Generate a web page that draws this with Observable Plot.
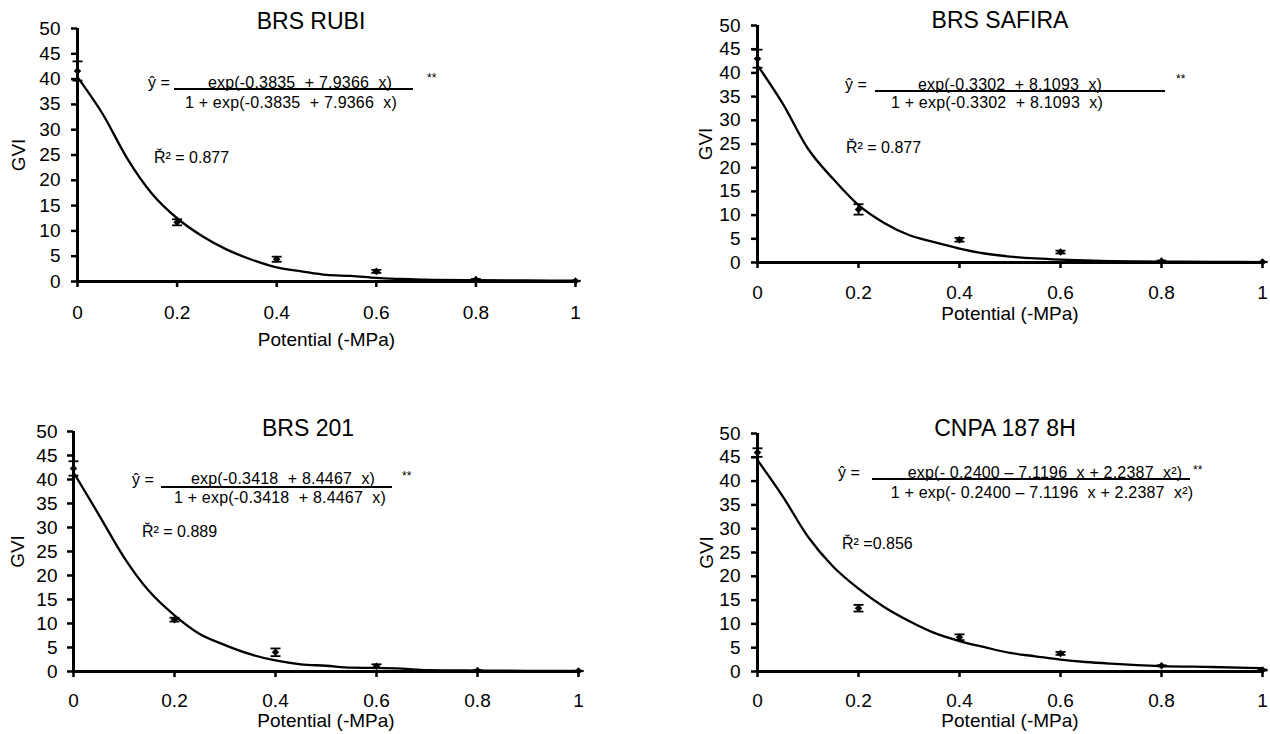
<!DOCTYPE html>
<html><head><meta charset="utf-8">
<script src="https://cdn.jsdelivr.net/npm/d3@7"></script>
<script src="https://cdn.jsdelivr.net/npm/@observablehq/plot@0.6"></script>
<style>
html,body{margin:0;padding:0;background:#fff;}
#root{position:relative;width:1270px;height:734px;overflow:hidden;font-family:"Liberation Sans",Arial,sans-serif;color:#000;background:#fff;}
.panel{position:absolute;}
.ann{position:absolute;white-space:pre;line-height:1;}
.fline{position:absolute;height:0;border-top:2px solid #000;}
</style></head><body><div id="root"></div>
<script>
// ---------------- data ----------------
const panelTitles = ["BRS RUBI", "BRS SAFIRA", "BRS 201", "CNPA 187 8H"];
const numerators = [
  "exp(-0.3835  + 7.9366  x)",
  "exp(-0.3302  + 8.1093  x)",
  "exp(-0.3418  + 8.4467  x)",
  "exp(- 0.2400 \u2013 7.1196  x + 2.2387  x\u00B2)"
];
const denominators = [
  "1 + exp(-0.3835  + 7.9366  x)",
  "1 + exp(-0.3302  + 8.1093  x)",
  "1 + exp(-0.3418  + 8.4467  x)",
  "1 + exp(- 0.2400 \u2013 7.1196  x + 2.2387  x\u00B2)"
];
const r2Labels = ["\u0158\u00B2 = 0.877", "\u0158\u00B2 = 0.877", "\u0158\u00B2 = 0.889", "\u0158\u00B2 =0.856"];
const yHatLabel = "\u0177 =";
const signif = "**";
const xLabel = "Potential (-MPa)";
const yLabel = "GVI";

const xTicks = [0, 0.2, 0.4, 0.6, 0.8, 1];
const yTicks = [0, 5, 10, 15, 20, 25, 30, 35, 40, 45, 50];
const potentials = [0, 0.2, 0.4, 0.6, 0.8, 1];

const meanRubi   = [41.6, 11.7, 4.4, 2.0, 0.4, 0.1];
const errRubi    = [1.9, 0.6, 0.5, 0.3, 0.1, 0.05];
const meanSafira = [43.0, 11.2, 4.8, 2.2, 0.3, 0.1];
const errSafira  = [1.9, 1.1, 0.4, 0.3, 0.1, 0.05];
const mean201    = [42.3, 10.8, 4.0, 1.1, 0.2, 0.1];
const err201     = [1.5, 0.4, 0.8, 0.4, 0.1, 0.05];
const meanCnpa   = [46.0, 13.3, 7.2, 3.8, 1.2, 0.3];
const errCnpa    = [0.9, 0.7, 0.6, 0.3, 0.1, 0.1];

const curveX      = [0, 0.05, 0.1, 0.15, 0.2, 0.25, 0.3, 0.35, 0.4, 0.45, 0.5, 0.55, 0.6, 0.65, 0.7, 0.8, 0.9, 1];
const curveRubi   = [40.4, 33.2, 24.3, 17.3, 12.5, 9.0, 6.3, 4.3, 2.8, 2.0, 1.3, 1.1, 0.7, 0.5, 0.35, 0.25, 0.2, 0.15];
const curveSafira = [41.6, 33.5, 24.0, 17.6, 12.1, 8.4, 5.8, 4.3, 2.95, 1.9, 1.25, 0.85, 0.6, 0.45, 0.3, 0.2, 0.15, 0.1];
const curve201    = [41.5, 32.7, 23.8, 16.7, 11.7, 7.8, 5.5, 3.6, 2.3, 1.5, 1.2, 0.8, 0.75, 0.6, 0.3, 0.2, 0.15, 0.1];
const curveCnpa   = [44.4, 36.8, 28.3, 22.0, 17.4, 13.6, 10.6, 8.1, 6.4, 5.1, 3.9, 3.2, 2.5, 2.0, 1.65, 1.15, 0.95, 0.7];

const means  = [meanRubi, meanSafira, mean201, meanCnpa];
const errs   = [errRubi, errSafira, err201, errCnpa];
const curves = [curveRubi, curveSafira, curve201, curveCnpa];

// ---------------- layout (pixels) ----------------
const layout = [
  {left: 0, top: 0, w: 630, h: 367, x0: 77, x1: 575, yT: 28, yB: 281, yPad: 11, xPad: 18, gviDx: -59, xlabDy: 58,
   title: [311, 21], yhat: [148, 83], num: [300, 83], line: [174, 413, 89], den: [291, 103], stars: [427, 78], r2: [154, 158]},
  {left: 630, top: 0, w: 640, h: 367, x0: 757, x1: 1262, yT: 25, yB: 262, yPad: 11, xPad: 17, gviDx: -52, xlabDy: 51,
   title: [1000, 20], yhat: [845, 85], num: [1010, 85], line: [875, 1165, 91], den: [997, 103], stars: [1176, 79], r2: [846, 148]},
  {left: 0, top: 367, w: 630, h: 367, x0: 73, x1: 578, yT: 431, yB: 671, yPad: 10, xPad: 16, gviDx: -56, xlabDy: 49,
   title: [308, 428], yhat: [132, 480], num: [283, 479], line: [161, 392, 487], den: [280, 498], stars: [402, 476], r2: [142, 532]},
  {left: 630, top: 367, w: 640, h: 367, x0: 757, x1: 1262, yT: 433, yB: 671, yPad: 11, xPad: 16, gviDx: -51, xlabDy: 49,
   title: [1005, 428], yhat: [838, 473], num: [1045, 473], line: [872, 1190, 479], den: [1042, 493], stars: [1193, 470], r2: [842, 544]}
];

const capSymbol = {
  draw(ctx, size) { const r = Math.sqrt(size / Math.PI); ctx.moveTo(-r, 0); ctx.lineTo(r, 0); }
};

const root = document.getElementById("root");
const FONT = "'Liberation Sans', Arial, sans-serif";

function makePanel(i) {
  const L = layout[i];
  const pts = potentials.map((x, j) => ({x, mean: means[i][j], err: errs[i][j]}));
  const curve = curveX.map((x, j) => ({x, y: curves[i][j]}));
  const plot = Plot.plot({
    width: L.w, height: L.h,
    marginLeft: L.x0 - L.left, marginRight: L.left + L.w - L.x1,
    marginTop: L.yT - L.top, marginBottom: L.top + L.h - L.yB,
    style: {fontFamily: FONT, fontSize: "19px", background: "transparent", overflow: "visible", color: "#000"},
    x: {domain: [xTicks[0], xTicks[xTicks.length - 1]]},
    y: {domain: [yTicks[0], yTicks[yTicks.length - 1]]},
    marks: [
      Plot.axisY({ticks: yTicks, tickSize: 6, tickPadding: L.yPad, strokeWidth: 2.5, label: null, fontSize: 19}),
      Plot.axisX({ticks: xTicks, tickSize: 6, tickPadding: L.xPad, strokeWidth: 2.5, label: null, fontSize: 19, tickFormat: d => String(d)}),
      Plot.line(curve, {x: "x", y: "y", stroke: "#000", strokeWidth: 2.3, curve: "monotone-x"}),
      Plot.ruleX([xTicks[0]], {y1: yTicks[0], y2: yTicks[yTicks.length - 1], strokeWidth: 3}),
      Plot.ruleY([yTicks[0]], {x1: xTicks[0], x2: xTicks[xTicks.length - 1], strokeWidth: 3}),
      Plot.ruleX(pts, {x: "x", y1: d => d.mean - d.err, y2: d => d.mean + d.err, stroke: "#000", strokeWidth: 1.8}),
      Plot.dot(pts, {x: "x", y: d => d.mean + d.err, symbol: capSymbol, r: 5, stroke: "#000", strokeWidth: 1.8, fill: "none"}),
      Plot.dot(pts, {x: "x", y: d => d.mean - d.err, symbol: capSymbol, r: 5, stroke: "#000", strokeWidth: 1.8, fill: "none"}),
      Plot.dot(pts, {x: "x", y: "mean", symbol: "diamond2", r: 3.4, fill: "#000", stroke: "none"}),
      Plot.text([yLabel], {text: d => d, frameAnchor: "left", dx: L.gviDx, rotate: -90, textAnchor: "middle", lineAnchor: "middle", fontSize: 19}),
      Plot.text([xLabel], {text: d => d, frameAnchor: "bottom", dy: L.xlabDy, textAnchor: "middle", lineAnchor: "middle", fontSize: 19})
    ]
  });
  const div = document.createElement("div");
  div.className = "panel";
  div.style.left = L.left + "px";
  div.style.top = L.top + "px";
  div.appendChild(plot);
  root.appendChild(div);
}

function addText(txt, x, y, size, anchor, extra) {
  const s = document.createElement("div");
  s.className = "ann";
  s.textContent = txt;
  s.style.left = x + "px";
  s.style.top = y + "px";
  s.style.fontSize = size + "px";
  s.style.transform = anchor === "middle" ? "translate(-50%,-50%)" : "translate(0,-50%)";
  if (extra) Object.assign(s.style, extra);
  root.appendChild(s);
}

function addAnnotations(i) {
  const L = layout[i];
  addText(panelTitles[i], L.title[0], L.title[1], 23, "middle");
  addText(yHatLabel, L.yhat[0], L.yhat[1], 16, "start");
  addText(numerators[i], L.num[0], L.num[1], 16, "middle", {letterSpacing: "0.2px"});
  const ln = document.createElement("div");
  ln.className = "fline";
  ln.style.left = L.line[0] + "px";
  ln.style.top = (L.line[2] - 1) + "px";
  ln.style.width = (L.line[1] - L.line[0]) + "px";
  root.appendChild(ln);
  addText(denominators[i], L.den[0], L.den[1], 16, "middle", {letterSpacing: "0.2px"});
  addText(signif, L.stars[0], L.stars[1], 12, "start");
  addText(r2Labels[i], L.r2[0], L.r2[1], 16, "start");
}

for (let i = 0; i < 4; i++) makePanel(i);
for (let i = 0; i < 4; i++) addAnnotations(i);
</script></body></html>
